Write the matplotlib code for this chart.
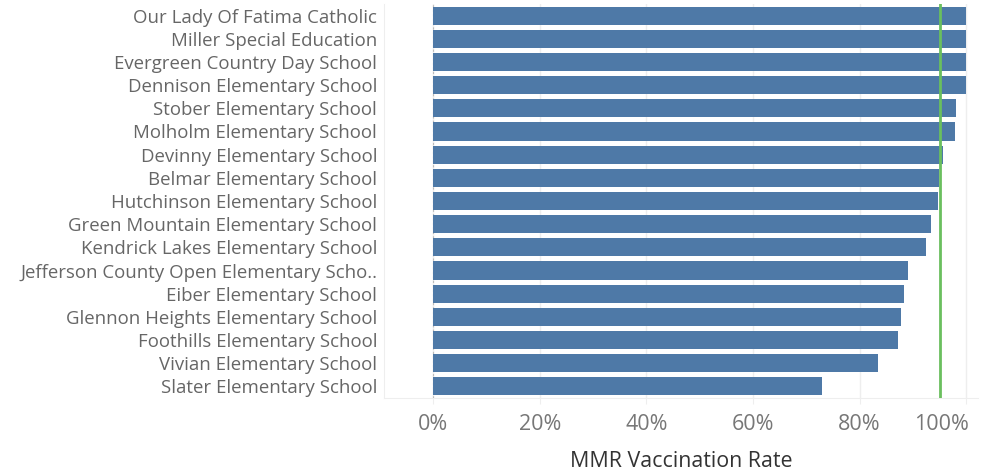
import matplotlib
matplotlib.use("Agg")
import matplotlib.pyplot as plt
from matplotlib.ticker import PercentFormatter
from matplotlib.transforms import ScaledTranslation

schools = [
    "Our Lady Of Fatima Catholic",
    "Miller Special Education",
    "Evergreen Country Day School",
    "Dennison Elementary School",
    "Stober Elementary School",
    "Molholm Elementary School",
    "Devinny Elementary School",
    "Belmar Elementary School",
    "Hutchinson Elementary School",
    "Green Mountain Elementary School",
    "Kendrick Lakes Elementary School",
    "Jefferson County Open Elementary Scho..",
    "Eiber Elementary School",
    "Glennon Heights Elementary School",
    "Foothills Elementary School",
    "Vivian Elementary School",
    "Slater Elementary School",
]
rates = [1.000, 1.000, 1.000, 1.000, 0.981, 0.979, 0.957, 0.949, 0.947,
         0.934, 0.925, 0.891, 0.884, 0.878, 0.872, 0.835, 0.730]
target = 0.95
xticks = [0, 0.2, 0.4, 0.6, 0.8, 1.0]
x_title = "MMR Vaccination Rate"

plt.rcParams['font.family'] = ['Open Sans', 'DejaVu Sans']

W, H = 994, 472
fig = plt.figure(figsize=(W / 100, H / 100), dpi=100)
ax = fig.add_axes([384 / W, 1 - 398 / H, (978 - 384) / W, (398 - 4) / H])

ypos = list(range(len(schools)))
ax.barh(ypos, rates, height=0.78, color="#4e79a7", zorder=3)
ax.set_ylim(len(schools) - 0.5, -0.5)
ax.set_xlim(-0.092, 1.022)

ax.axvline(target, color="#6abf5e", lw=2, zorder=4)
ax.axvline(0, color="#bbbbbb", lw=0.8, ls=(0, (2, 2)), zorder=2)

ax.set_xticks(xticks)
ax.xaxis.set_major_formatter(PercentFormatter(1.0, decimals=0))
ax.grid(axis="x", color="#eeeeee", lw=1, zorder=0)
ax.set_yticks(ypos)
ax.set_yticklabels(schools)
ax.tick_params(axis="y", length=0, pad=5, labelsize=13.4, labelcolor="#666666")
ax.tick_params(axis="x", length=4.5, color="#eeeeee", pad=7, labelsize=15.5, labelcolor="#777777")

# keep the last tick label inside the axis area, as in the reference
fig.canvas.draw()
last = ax.get_xticklabels()[-1]
last.set_horizontalalignment("right")
last.set_transform(last.get_transform() + ScaledTranslation(3 / 100, 0, fig.dpi_scale_trans))

for s in ["top", "right"]:
    ax.spines[s].set_visible(False)
ax.spines["bottom"].set_color("#eeeeee")
ax.spines["left"].set_color("#eeeeee")

ax.set_xlabel(x_title, fontsize=15.4, color="#333333", labelpad=11.5)

fig.savefig("out.png", dpi=100)
